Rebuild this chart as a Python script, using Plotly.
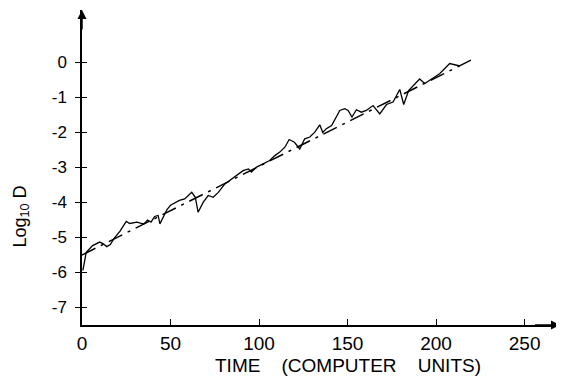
import plotly.graph_objects as go

# Data
time_vals = [0.5, 2.4, 6, 10, 12, 14, 16, 18, 21.5, 25, 27, 29, 31, 33, 35, 37, 39, 41, 43, 44,
             46, 48, 50, 53, 55, 58, 62, 64, 65.6, 68.5, 71.3, 74.1, 77, 80.7, 84.5, 88.2, 91, 94,
             95.7, 98.6, 101.4, 104.2, 106, 108.9, 111.7, 114.6, 117, 120, 123, 125.8, 128.7,
             131.5, 134.3, 136, 138, 141, 143.7, 145.6, 148.4, 150.3, 152.5, 155, 157.8, 160.6,
             164.4, 168.2, 172, 175.7, 179.5, 181.7, 184.5, 187.9, 190.7, 193.6, 197.3, 202,
             207.7, 211, 213.5]
log_d = [-5.94, -5.42, -5.23, -5.13, -5.18, -5.26, -5.2, -5.03, -4.82, -4.54, -4.6, -4.59, -4.56,
         -4.59, -4.61, -4.5, -4.56, -4.4, -4.37, -4.61, -4.4, -4.2, -4.08, -3.99, -3.94, -3.9,
         -3.71, -3.85, -4.28, -3.99, -3.8, -3.85, -3.71, -3.47, -3.32, -3.18, -3.09, -3.04,
         -3.13, -2.99, -2.92, -2.85, -2.8, -2.66, -2.56, -2.42, -2.2, -2.28, -2.47, -2.18,
         -2.13, -1.99, -1.78, -2.0, -1.89, -1.8, -1.56, -1.37, -1.32, -1.37, -1.56, -1.35,
         -1.42, -1.37, -1.23, -1.47, -1.2, -1.13, -0.77, -1.2, -0.8, -0.61, -0.47, -0.6,
         -0.47, -0.32, -0.03, -0.08, -0.1]

fit_time = [0, 221]
fit_log_d = [-5.5, 0.1]

x_ticks = [0, 50, 100, 150, 200, 250]
x_tick_labels = ["0", "50", "100", "150", "200", "250"]
y_ticks = [0, -1, -2, -3, -4, -5, -6, -7]
y_tick_labels = ["0", "-1", "-2", "-3", "-4", "-5", "-6", "-7"]

X_RANGE = [0, 270]
Y_RANGE = [-7.5, 1.5]
FONT = "Liberation Sans, Arial, sans-serif"

fig = go.Figure()
fig.add_trace(go.Scatter(x=fit_time, y=fit_log_d, mode="lines",
                         line=dict(color="black", width=1.5, dash="longdashdot"),
                         hoverinfo="skip", showlegend=False))
fig.add_trace(go.Scatter(x=time_vals, y=log_d, mode="lines",
                         line=dict(color="black", width=1.3),
                         showlegend=False))

# margins allow for the page's default 8px body margin
fig.update_layout(
    width=564, height=377,
    margin=dict(l=74, r=12, t=2, b=60, autoexpand=False),
    paper_bgcolor="white", plot_bgcolor="white",
    font=dict(family=FONT, size=18, color="black"),
    xaxis=dict(range=X_RANGE, showgrid=False, zeroline=False, showline=True, automargin=False,
               linecolor="black", linewidth=1.5, ticks="inside", ticklen=6,
               tickwidth=1.3, tickcolor="black", tickvals=x_ticks, ticktext=x_tick_labels,
               tickfont=dict(size=19), fixedrange=True),
    yaxis=dict(range=Y_RANGE, showgrid=False, zeroline=False, showline=True, automargin=False,
               linecolor="black", linewidth=1.5, ticks="outside", ticklen=5,
               tickwidth=1.3, tickcolor="black", tickvals=y_ticks, ticktext=y_tick_labels,
               ticklabelstandoff=5, tickfont=dict(size=17), fixedrange=True),
    yaxis2=dict(range=Y_RANGE, overlaying="y", side="left", showgrid=False, automargin=False,
                zeroline=False, showline=False, ticks="inside", ticklen=5,
                tickwidth=1.3, tickcolor="black", tickvals=y_ticks,
                showticklabels=False, fixedrange=True),
)
# empty trace so that the overlaid axis (inner half of the y ticks) is drawn
fig.add_trace(go.Scatter(x=[None], y=[None], yaxis="y2", showlegend=False, hoverinfo="skip"))

# axis arrows
fig.add_annotation(x=X_RANGE[0], y=Y_RANGE[1], ax=X_RANGE[0], ay=Y_RANGE[1] - 0.6,
                   xref="x", yref="y", axref="x", ayref="y", text="", showarrow=True,
                   arrowhead=2, arrowsize=1.2, arrowwidth=1.5, arrowcolor="black")
fig.add_annotation(x=X_RANGE[1], y=Y_RANGE[0], ax=X_RANGE[1] - 15, ay=Y_RANGE[0],
                   xref="x", yref="y", axref="x", ayref="y", text="", showarrow=True,
                   arrowhead=2, arrowsize=1.2, arrowwidth=1.5, arrowcolor="black")

# axis titles
fig.add_annotation(text="Log<sub>10</sub> D", textangle=-90, showarrow=False,
                   xref="paper", yref="y", x=0, xshift=-61, y=-4.4,
                   xanchor="center", yanchor="middle",
                   font=dict(size=18, family=FONT))
fig.add_annotation(text="TIME&nbsp;&nbsp;&nbsp;&nbsp;(COMPUTER&nbsp;&nbsp;&nbsp;&nbsp;UNITS)",
                   showarrow=False, xref="x", yref="paper", x=150, y=0, yshift=-40,
                   xanchor="center", yanchor="middle",
                   font=dict(size=19, family=FONT))

fig.write_html("out.html")
